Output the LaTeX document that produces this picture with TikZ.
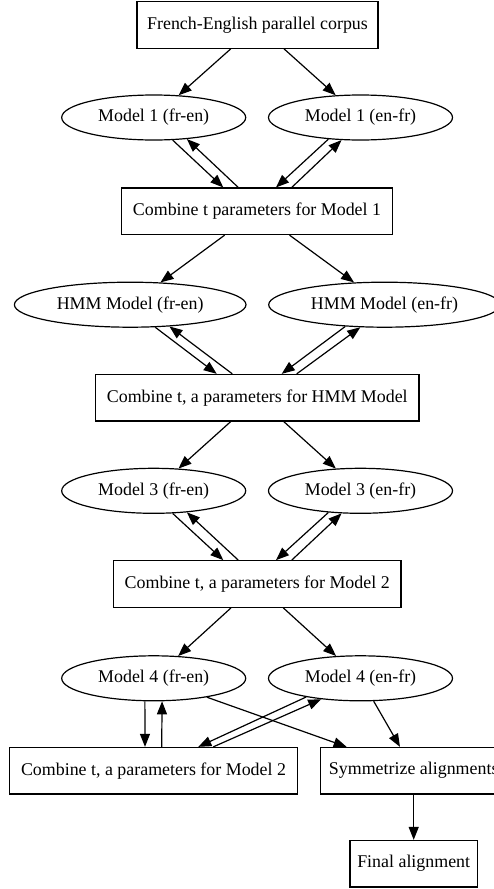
\documentclass[tikz,border=0pt]{standalone}
\usepackage{fontspec}
\setmainfont{Liberation Serif}
\usetikzlibrary{shapes.geometric,arrows.meta}
\begin{document}
\begin{tikzpicture}[x=1pt,y=-1pt,line width=1.2pt,
    rect/.style={draw,rectangle,minimum height=46.5pt,inner sep=0pt,font=\fontsize{17.9}{21}\selectfont},
    ell/.style={draw,ellipse,minimum height=45pt,inner sep=0pt,font=\fontsize{17.9}{21}\selectfont},
    pfeil/.style={-{Triangle[length=13pt,width=10pt]}}]
  \useasboundingbox (0,0) rectangle (494,889);
  \node[rect,minimum width=241pt] (corpus) at (257.5,25) {French-English parallel corpus};
  \node[ell,minimum width=184pt] (m1fe) at (153.7,117.5) {Model 1 (fr-en)};
  \node[ell,minimum width=184pt] (m1ef) at (360.5,117.5) {Model 1 (en-fr)};
  \node[rect,minimum width=271.7pt] (comb1) at (257,211.3) {Combine t parameters for Model 1};
  \node[ell,minimum width=231.6pt] (hmmfe) at (130.2,304.7) {HMM Model (fr-en)};
  \node[ell,minimum width=231.6pt] (hmmef) at (384.5,304.7) {HMM Model (en-fr)};
  \node[rect,minimum width=323.3pt] (combhmm) at (257.3,397.7) {Combine t, a parameters for HMM Model};
  \node[ell,minimum width=184pt] (m3fe) at (153.7,490.8) {Model 3 (fr-en)};
  \node[ell,minimum width=184pt] (m3ef) at (360.5,490.8) {Model 3 (en-fr)};
  \node[rect,minimum width=287.7pt] (comb2) at (257.2,584) {Combine t, a parameters for Model 2};
  \node[ell,minimum width=184pt] (m4fe) at (153.7,678.3) {Model 4 (fr-en)};
  \node[ell,minimum width=184pt] (m4ef) at (360.5,678.3) {Model 4 (en-fr)};
  \node[rect,minimum width=288.4pt] (comb2b) at (153.5,770.7) {Combine t, a parameters for Model 2};
  \node[rect,minimum width=186pt] (sym) at (413.7,770.7) {Symmetrize alignments};
  \node[rect,minimum width=127.3pt] (final) at (413.7,863.7) {Final alignment};

  % corpus to Model 1
  \draw[pfeil] (corpus) -- (m1fe);
  \draw[pfeil] (corpus) -- (m1ef);
  % Model 1 <-> combine
  \draw[pfeil] (m1fe.-50.8) -- ([xshift=-33.7pt]comb1.north);
  \draw[pfeil] ([xshift=-18.7pt]comb1.north) -- (m1fe.-33.1);
  \draw[pfeil] (m1ef.-146.8) -- ([xshift=19pt]comb1.north);
  \draw[pfeil] ([xshift=34.7pt]comb1.north) -- (m1ef.-130.5);
  \draw[pfeil] (comb1) -- (hmmfe);
  \draw[pfeil] (comb1) -- (hmmef);
  % HMM <-> combine
  \draw[pfeil] (hmmfe.-42.2) -- ([xshift=-40.6pt]combhmm.north);
  \draw[pfeil] ([xshift=-25pt]combhmm.north) -- (hmmfe.-29.7);
  \draw[pfeil] (hmmef.-151.3) -- ([xshift=24.4pt]combhmm.north);
  \draw[pfeil] ([xshift=39.4pt]combhmm.north) -- (hmmef.-137.5);
  \draw[pfeil] (combhmm) -- (m3fe);
  \draw[pfeil] (combhmm) -- (m3ef);
  % Model 3 <-> combine
  \draw[pfeil] (m3fe.-50.8) -- ([xshift=-33.9pt]comb2.north);
  \draw[pfeil] ([xshift=-18.9pt]comb2.north) -- (m3fe.-33.1);
  \draw[pfeil] (m3ef.-146.8) -- ([xshift=18.8pt]comb2.north);
  \draw[pfeil] ([xshift=34.5pt]comb2.north) -- (m3ef.-130.5);
  \draw[pfeil] (comb2) -- (m4fe);
  \draw[pfeil] (comb2) -- (m4ef);
  % Model 4 <-> combine, symmetrize
  \draw[pfeil] (m4fe.-111.2) -- ([xshift=-8.5pt]comb2b.north);
  \draw[pfeil] ([xshift=8.2pt]comb2b.north) -- (m4fe.-70.4);
  \draw[pfeil] (m4ef.-161.3) -- ([xshift=44.8pt]comb2b.north);
  \draw[pfeil] ([xshift=59.8pt]comb2b.north) -- (m4ef.-152.3);
  \draw[pfeil] (m4fe) -- (sym);
  \draw[pfeil] (m4ef) -- (sym);
  \draw[pfeil] (sym) -- (final);
\end{tikzpicture}
\end{document}
